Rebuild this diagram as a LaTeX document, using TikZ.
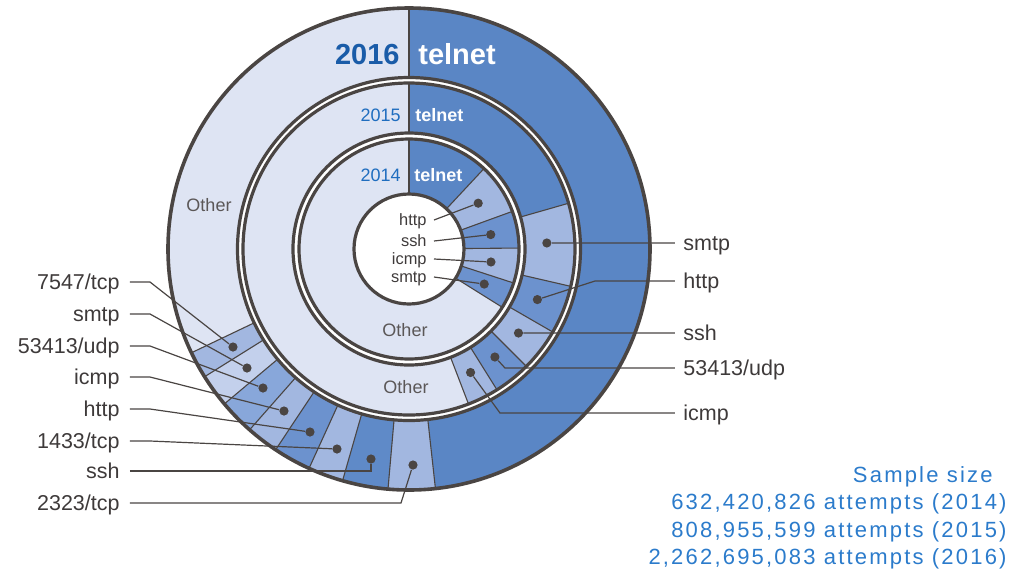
\documentclass[tikz,border=0pt]{standalone}
\usepackage{fontspec}
\setmainfont{Liberation Sans}
\usepackage{xcolor}
\usetikzlibrary{calc}

\definecolor{otherfill}{HTML}{DEE4F3}
\definecolor{telnetfill}{HTML}{5A86C5}
\definecolor{deepseg}{HTML}{5F8AC8}
\definecolor{darkseg}{HTML}{6C92CE}
\definecolor{midseg}{HTML}{88A7DA}
\definecolor{lightseg}{HTML}{A2B7E0}
\definecolor{paleseg}{HTML}{C3D0EC}
\definecolor{lineclr}{HTML}{4A4543}
\definecolor{textclr}{HTML}{3E3A3A}
\definecolor{yearblue}{HTML}{1F6DBF}
\definecolor{yearbold}{HTML}{1A5CA8}
\definecolor{sampleblue}{HTML}{2B7BCB}

\begin{document}
\begin{tikzpicture}[
    x=0.5pt, y=0.5pt,
    ringline/.style={draw=lineclr, line width=1.6pt},
    sepline/.style={draw=lineclr, line width=0.55pt},
    leader/.style={draw=lineclr, line width=0.6pt},
    dot/.style={circle, fill=lineclr, inner sep=0pt, minimum size=4.6pt},
    sidelabel/.style={font=\fontsize{10.75pt}{12pt}\selectfont, text=textclr,
        inner ysep=0pt, text height=7.7pt, text depth=0pt},
    leftlabel/.style={sidelabel, anchor=east, inner xsep=5pt},
    rightlabel/.style={sidelabel, anchor=west, inner xsep=4pt},
    holelabel/.style={font=\fontsize{8.2pt}{9pt}\selectfont, text=textclr, anchor=east,
        inner xsep=3.5pt, inner ysep=0pt, text height=5.9pt, text depth=0pt},
    otherlabel/.style={font=\fontsize{9pt}{10pt}\selectfont, text=textclr!85, inner sep=0pt},
    yearlabel/.style={inner sep=0pt, anchor=base east},
    telnetlabel/.style={inner sep=0pt, anchor=base west, text=white}
]
\useasboundingbox (-409,-321) rectangle (621,249);

% ===== 2014 ring =====
\foreach \a/\b/\c in {47/90/telnetfill, 20/47/lightseg, 0.5/20/darkseg,
    -18/0.5/lightseg, -32/-18/darkseg, -270/-32/otherfill}
  \fill[\c] (\a:55) arc[start angle=\a, end angle=\b, radius=55]
    -- (\b:110) arc[start angle=\b, end angle=\a, radius=110] -- cycle;
\foreach \a in {90, 47, 20, 0.5, -18, -32}
  \draw[sepline] (\a:55) -- (\a:110);

% ===== 2015 ring =====
\foreach \a/\b/\c in {16/90/telnetfill, -13/16/lightseg, -30/-13/darkseg,
    -45/-30/lightseg, -58/-45/darkseg, -69/-58/lightseg, -270/-69/otherfill}
  \fill[\c] (\a:116) arc[start angle=\a, end angle=\b, radius=116]
    -- (\b:166) arc[start angle=\b, end angle=\a, radius=166] -- cycle;
\foreach \a in {90, 16, -13, -30, -45, -58, -69}
  \draw[sepline] (\a:116) -- (\a:166);

% ===== 2016 ring =====
\foreach \a/\b/\c in {-83.7/90/telnetfill, -95/-83.7/lightseg, -106/-95/deepseg,
    -114.5/-106/lightseg, -123.6/-114.5/darkseg, -131.4/-123.6/lightseg,
    -140/-131.4/midseg, -148/-140/paleseg, -154.5/-148/lightseg, 90/205.5/otherfill}
  \fill[\c] (\a:171.5) arc[start angle=\a, end angle=\b, radius=171.5]
    -- (\b:241) arc[start angle=\b, end angle=\a, radius=241] -- cycle;
\foreach \a in {90, -83.7, -95, -106, -114.5, -123.6, -131.4, -140, -148, -154.5}
  \draw[sepline] (\a:171.5) -- (\a:241);

% ===== Ring borders =====
\foreach \r in {55, 110, 116, 166, 171.5}
  \draw[ringline] (0,0) circle[radius=\r];
\draw[ringline, line width=1.8pt] (0,0) circle[radius=241];

% ===== Ring titles =====
\node[yearlabel, text=yearbold, font=\fontsize{14.5pt}{17pt}\selectfont\bfseries] (year16) at (-9,185) {2016};
\node[telnetlabel, font=\fontsize{14.5pt}{17pt}\selectfont\bfseries] (telnet16) at (9,185) {telnet};
\node[yearlabel, text=yearblue, font=\fontsize{9pt}{10pt}\selectfont] (year15) at (-8,127.5) {2015};
\node[telnetlabel, font=\fontsize{9pt}{10pt}\selectfont\bfseries] (telnet15) at (6,127.5) {telnet};
\node[yearlabel, text=yearblue, font=\fontsize{9pt}{10pt}\selectfont] (year14) at (-8,67.5) {2014};
\node[telnetlabel, font=\fontsize{9pt}{10pt}\selectfont\bfseries] (telnet14) at (5,67.5) {telnet};

\node[otherlabel] (other16) at (-200,44) {Other};
\node[otherlabel] (other15) at (-3,-138) {Other};
\node[otherlabel] (other14) at (-4,-81) {Other};

% ===== Dots =====
\node[dot] (dot14http) at (33.5:83) {};
\node[dot] (dot14ssh) at (10:83) {};
\node[dot] (dot14icmp) at (-9:83) {};
\node[dot] (dot14smtp) at (-25:83) {};

\node[dot] (dot15smtp) at (2.5:138) {};
\node[dot] (dot15http) at (-21.5:138) {};
\node[dot] (dot15ssh) at (-37.5:138) {};
\node[dot] (dot15udp) at (-51.5:138) {};
\node[dot] (dot15icmp) at (-63.5:138) {};

\node[dot] (dot16p7547) at (-176,-98) {};
\node[dot] (dot16smtp) at (-162,-119) {};
\node[dot] (dot16udp) at (-146,-139) {};
\node[dot] (dot16icmp) at (-125,-162) {};
\node[dot] (dot16http) at (-99,-183) {};
\node[dot] (dot16p1433) at (-72,-200) {};
\node[dot] (dot16ssh) at (-38,-210) {};
\node[dot] (dot16p2323) at (4,-216) {};

% ===== Labels =====
\node[holelabel] (lab14http) at (25,29) {http};
\node[holelabel] (lab14ssh) at (25,8) {ssh};
\node[holelabel] (lab14icmp) at (25,-10) {icmp};
\node[holelabel] (lab14smtp) at (25,-28) {smtp};

\node[rightlabel] (lab15smtp) at (266,6) {smtp};
\node[rightlabel] (lab15http) at (266,-32) {http};
\node[rightlabel] (lab15ssh) at (266,-84) {ssh};
\node[rightlabel] (lab15udp) at (266,-119) {53413/udp};
\node[rightlabel] (lab15icmp) at (266,-164) {icmp};

\node[leftlabel] (lab16p7547) at (-279,-33) {7547/tcp};
\node[leftlabel] (lab16smtp) at (-279,-65) {smtp};
\node[leftlabel] (lab16udp) at (-279,-97) {53413/udp};
\node[leftlabel] (lab16icmp) at (-279,-128) {icmp};
\node[leftlabel] (lab16http) at (-279,-160) {http};
\node[leftlabel] (lab16p1433) at (-279,-192) {1433/tcp};
\node[leftlabel] (lab16ssh) at (-279,-222) {ssh};
\node[leftlabel] (lab16p2323) at (-279,-254) {2323/tcp};

% ===== Leaders =====
\foreach \n in {http, ssh, icmp, smtp}
  \draw[leader] (lab14\n.east) -- (dot14\n);

\draw[leader] (dot15smtp) -- (lab15smtp.west);
\draw[leader] (lab15http.west) -- ++(-80,0) -- (dot15http);
\draw[leader] (dot15ssh) -- (lab15ssh.west);
\draw[leader] (lab15udp.west) -- ++(-170,0) -- (dot15udp);
\draw[leader] (lab15icmp.west) -- ++(-175,0) -- (dot15icmp);

\foreach \n in {p7547, smtp, udp, icmp, http, p1433}
  \draw[leader] (lab16\n.east) -- ++(20,0) -- (dot16\n);
\draw[leader] (lab16ssh.east) -| (dot16ssh);
\draw[leader] (lab16p2323.east) -- ($(dot16p2323 |- lab16p2323.east)+(-12,0)$) -- (dot16p2323);

% ===== Sample size =====
\node[anchor=north east, align=right, text=sampleblue, inner sep=0pt,
    font=\fontsize{11pt}{13.7pt}\selectfont\addfontfeature{LetterSpace=10}] (sample) at (598,-217)
  {Sample size\hspace*{7pt}\\632,420,826 attempts (2014)\\808,955,599 attempts (2015)\\2,262,695,083 attempts (2016)};

\end{tikzpicture}
\end{document}
